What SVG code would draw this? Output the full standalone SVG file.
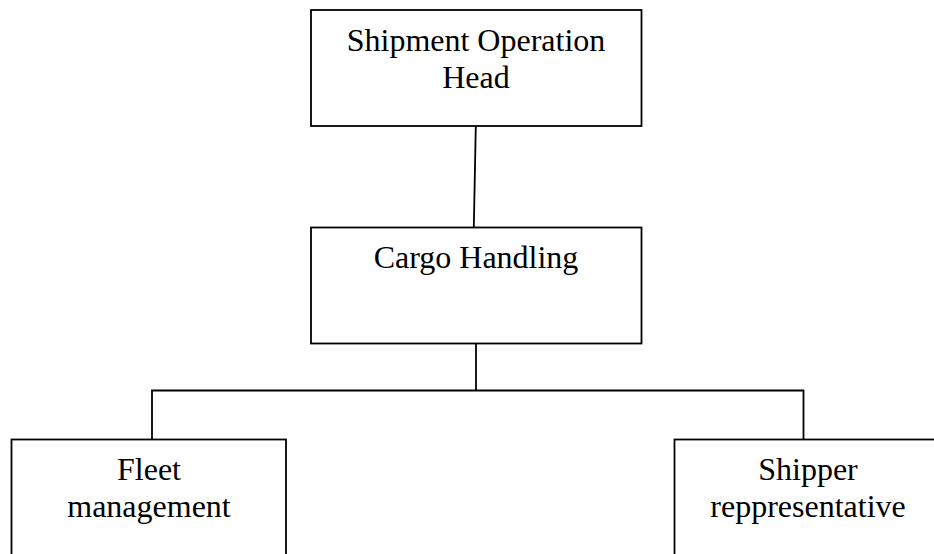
<svg xmlns="http://www.w3.org/2000/svg" width="934" height="554" viewBox="0 0 934 554">
  <style>
    .box { fill: #ffffff; stroke: #000000; stroke-width: 1.8; }
    .link { fill: none; stroke: #000000; stroke-width: 1.8; }
    .label { font-family: "Liberation Serif", "Times New Roman", serif; font-size: 32px; fill: #000000; text-anchor: middle; }
  </style>
  <rect width="934" height="554" fill="#ffffff"/>

  <g id="connectors">
    <line class="link" x1="475.8" y1="126" x2="473.8" y2="227.5"/>
    <polyline class="link" points="476,343.5 476,390.5"/>
    <polyline class="link" points="152,439.5 152,390.5 803.5,390.5 803.5,439.5"/>
  </g>

  <g id="node-head">
    <rect class="box" x="311" y="10" width="330.5" height="116"/>
    <text class="label" x="476" y="51">Shipment Operation</text>
    <text class="label" x="476" y="88">Head</text>
  </g>

  <g id="node-cargo">
    <rect class="box" x="311" y="227.5" width="330.5" height="116"/>
    <text class="label" x="476" y="268">Cargo Handling</text>
  </g>

  <g id="node-fleet">
    <rect class="box" x="11.5" y="439.5" width="274.5" height="140"/>
    <text class="label" x="149" y="480">Fleet</text>
    <text class="label" x="149" y="517">management</text>
  </g>

  <g id="node-shipper">
    <rect class="box" x="674.5" y="439.5" width="290" height="140"/>
    <text class="label" x="808" y="480">Shipper</text>
    <text class="label" x="808" y="517">reppresentative</text>
  </g>
</svg>
